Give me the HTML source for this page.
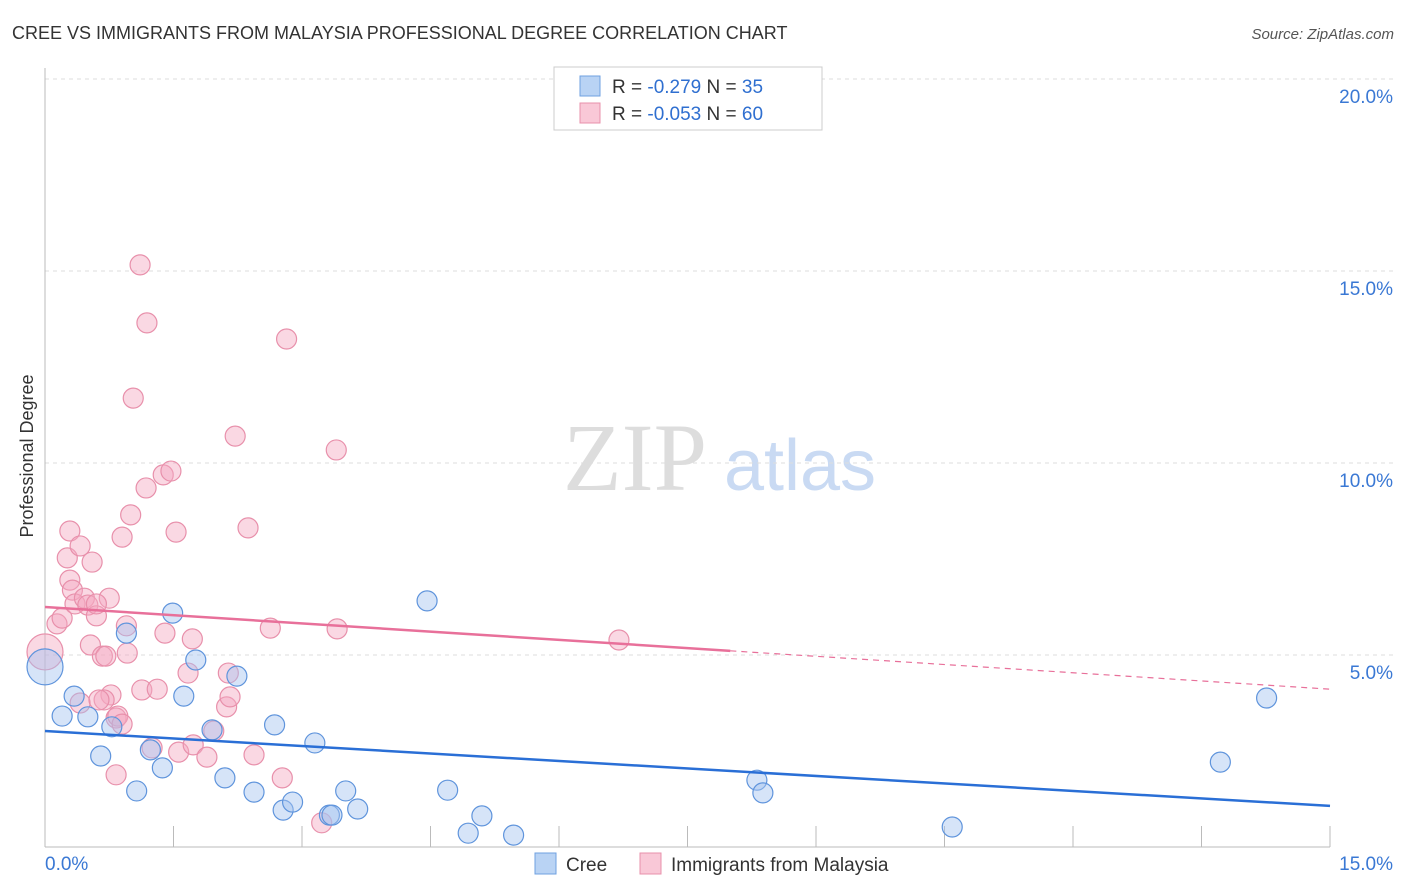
<!DOCTYPE html>
<html><head><meta charset="utf-8"><style>
body{margin:0;background:#fff;font-family:"Liberation Sans",sans-serif;}
</style></head><body>
<svg id="chart" width="1406" height="892" xmlns="http://www.w3.org/2000/svg" style="display:block">
<text x="12" y="39" font-size="18" fill="#333">CREE VS IMMIGRANTS FROM MALAYSIA PROFESSIONAL DEGREE CORRELATION CHART</text>
<text x="1394" y="39" font-size="15" fill="#555" font-style="italic" text-anchor="end">Source: ZipAtlas.com</text>
<text x="33" y="456" font-size="18" fill="#333" text-anchor="middle" transform="rotate(-90 33 456)">Professional Degree</text>
<g><text x="635" y="490" font-size="96" fill="#ddd" font-family="Liberation Serif,serif" text-anchor="middle">ZIP</text><text x="800" y="490" font-size="72" fill="#c9daf3" text-anchor="middle">atlas</text></g>
<g id="grid"></g><g id="axes"></g><g id="pts"></g><g id="trend"></g>
<g>
<rect x="554" y="67" width="268" height="63" fill="#fff" stroke="#ccc"/>
<rect x="580" y="76" width="20" height="20" fill="#b9d3f4" stroke="#6fa0e0"/>
<rect x="580" y="103" width="20" height="20" fill="#f9c8d7" stroke="#e890ab"/>
<text x="612" y="93" font-size="19" fill="#333">R = <tspan fill="#2f6fd0">-0.279</tspan>   N = <tspan fill="#2f6fd0">35</tspan></text>
<text x="612" y="120" font-size="19" fill="#333">R = <tspan fill="#2f6fd0">-0.053</tspan>   N = <tspan fill="#2f6fd0">60</tspan></text>
</g>
<g>
<rect x="535" y="853" width="21" height="21" fill="#b9d3f4" stroke="#6fa0e0"/>
<text x="566" y="871" font-size="19" fill="#333">Cree</text>
<rect x="640" y="853" width="21" height="21" fill="#f9c8d7" stroke="#e890ab"/>
<text x="671" y="871" font-size="19" fill="#333">Immigrants from Malaysia</text>
</g>
</svg>
<script>
const yTicks=[5,10,15,20];
const yTickLabels=["5.0%","10.0%","15.0%","20.0%"];
const xTickLabels=["0.0%","15.0%"];
const creeX=[0,0.20,0.34,0.50,0.65,0.78,0.95,1.07,1.23,1.37,1.49,1.62,1.76,1.95,2.10,2.24,2.44,2.68,2.78,2.89,3.15,3.32,3.35,3.51,3.65,4.46,4.70,4.94,5.10,5.47,8.31,8.38,10.59,13.72,14.26];
const creeY=[4.69,3.41,3.93,3.39,2.37,3.13,5.57,1.46,2.53,2.06,6.09,3.93,4.87,3.05,1.80,4.45,1.43,3.18,0.96,1.17,2.71,0.83,0.83,1.46,0.99,6.41,1.48,0.36,0.81,0.31,1.74,1.41,0.52,2.21,3.88];
const malX=[0,0.14,0.20,0.29,0.26,0.29,0.32,0.41,0.35,0.46,0.50,0.55,0.60,0.53,0.67,0.71,0.75,0.77,0.69,0.83,0.90,0.95,0.96,1.00,1.03,1.11,1.18,1.19,1.13,1.25,1.31,1.38,1.47,1.53,1.40,1.56,1.67,1.73,1.72,1.89,1.97,2.12,2.14,2.16,2.22,2.37,2.44,2.63,2.77,2.82,3.23,3.40,3.41,6.70,0.83,0.41,0.63,0.85,0.90,0.60];
const malY=[5.08,5.81,5.96,8.23,7.53,6.95,6.69,7.84,6.33,6.48,6.30,7.42,6.02,5.26,4.97,4.97,6.48,3.96,3.83,3.36,8.07,5.76,5.05,8.65,11.69,15.16,9.35,13.65,4.09,2.58,4.11,9.69,9.79,8.20,5.57,2.47,4.53,2.66,5.42,2.34,3.02,3.65,4.53,3.91,10.70,8.31,2.40,5.70,1.80,13.23,0.63,10.34,5.68,5.39,1.88,3.75,3.83,3.41,3.20,6.33];
const creeTrend=[3.02,1.07];
const malTrend=[6.25,4.11];
const malSolidEnd=8.0;
const NS="http://www.w3.org/2000/svg";
const X=v=>45+v*(1285/15);
const Y=v=>847-v*38.4;
function mk(parent,tag,attrs){const e=document.createElementNS(NS,tag);for(const k in attrs)e.setAttribute(k,attrs[k]);document.getElementById(parent).appendChild(e);return e;}
yTicks.forEach((t,i)=>{
 const l=mk('grid','line',{x1:45,x2:1393,y1:Y(t),y2:Y(t),stroke:'#ddd','stroke-dasharray':'4,4'});
 
 
 const tx=mk('grid','text',{x:1393,y:Y(t)+24,'font-size':19,fill:'#3a78d4','text-anchor':'end'});
 tx.textContent=yTickLabels[i];
 
 
});
const xa=mk('axes','line',{x1:45,x2:1330,y1:847,y2:847,stroke:'#bbb'});


const ya=mk('axes','line',{x1:45,x2:45,y1:68,y2:847,stroke:'#bbb'});


for(let i=0;i<=10;i++){const v=i*1.5;const t=mk('axes','line',{x1:X(v),x2:X(v),y1:826,y2:847,stroke:'#bbb'});
 
 }
[[0,'start',45],[15,'end',1393]].forEach((a,i)=>{const t=mk('axes','text',{x:a[2],y:870,'font-size':19,fill:'#3a78d4','text-anchor':a[1]});t.textContent=xTickLabels[i];
 
 });
function pts(xs,ys,fill,stroke,name){xs.forEach((x,i)=>{const r=(x===0)?18:10;
 const c=mk('pts','circle',{cx:X(x),cy:Y(ys[i]),r:r,fill:fill,'fill-opacity':0.45,stroke:stroke,'stroke-width':1.2});
 
 });}
pts(malX,malY,'#f5a9c1','#e890ab','malaysia-point');
pts(creeX,creeY,'#a3c4f0','#5f94dc','cree-point');
const slope=(malTrend[1]-malTrend[0])/15;
const l1=mk('trend','line',{x1:X(0),y1:Y(malTrend[0]),x2:X(malSolidEnd),y2:Y(malTrend[0]+slope*malSolidEnd),stroke:'#e8709a','stroke-width':2.5});


const l2=mk('trend','line',{x1:X(malSolidEnd),y1:Y(malTrend[0]+slope*malSolidEnd),x2:X(15),y2:Y(malTrend[1]),stroke:'#e8709a','stroke-width':1.2,'stroke-dasharray':'6,5'});


const l3=mk('trend','line',{x1:X(0),y1:Y(creeTrend[0]),x2:X(15),y2:Y(creeTrend[1]),stroke:'#2a6fd6','stroke-width':2.5});


</script>
</body></html>
